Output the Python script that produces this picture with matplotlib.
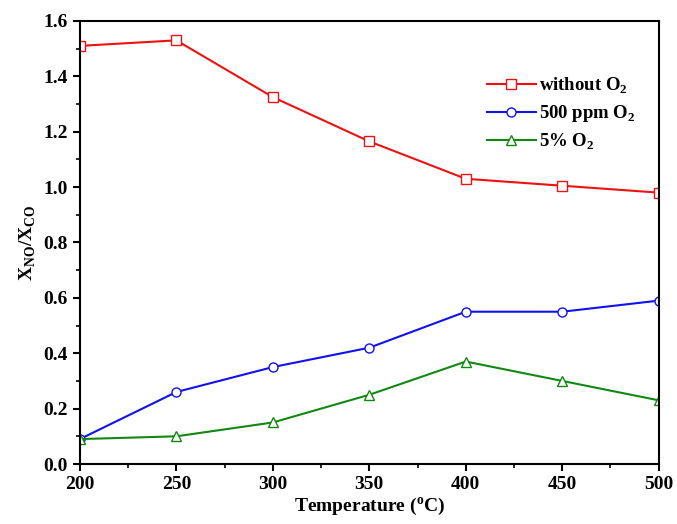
import matplotlib
matplotlib.use("Agg")
import matplotlib.pyplot as plt
from matplotlib.ticker import MultipleLocator

plt.rcParams['font.family'] = ['Liberation Serif', 'DejaVu Serif']
plt.rcParams['font.weight'] = 'bold'
plt.rcParams['mathtext.fontset'] = 'custom'
plt.rcParams['mathtext.rm'] = 'Liberation Serif:bold'
plt.rcParams['mathtext.bf'] = 'Liberation Serif:bold'

# Data
temps = [200, 250, 300, 350, 400, 450, 500]
without_o2 = [1.51, 1.53, 1.325, 1.165, 1.03, 1.005, 0.98]
ppm500_o2 = [0.09, 0.26, 0.35, 0.42, 0.55, 0.55, 0.59]
pct5_o2 = [0.09, 0.10, 0.15, 0.25, 0.37, 0.30, 0.23]

fig = plt.figure(figsize=(6.77, 5.24), dpi=100)
# right edge pulled in a little so the "500" tick label fits
ax = fig.add_axes([0.118, 0.1145, 0.855, 0.8455])

ax.plot(temps, without_o2, color='#ee1111', marker='s', mfc='white', ms=6.5,
        mew=1.0, lw=1.5, label=r'without O$_2$')
ax.plot(temps, ppm500_o2, color='#1111ee', marker='o', mfc='white', ms=6.5,
        mew=1.0, lw=1.5, label=r'500 ppm O$_2$')
ax.plot(temps, pct5_o2, color='#118811', marker='^', mfc='white', ms=7.5,
        mew=1.0, lw=1.5, label=r'5% O$_2$')

ax.set_xlim(200, 500)
ax.set_ylim(0, 1.6)
ax.xaxis.set_major_locator(MultipleLocator(50))
ax.xaxis.set_minor_locator(MultipleLocator(25))
ax.yaxis.set_major_locator(MultipleLocator(0.2))
ax.yaxis.set_minor_locator(MultipleLocator(0.1))
ax.yaxis.set_major_formatter(plt.FuncFormatter(lambda v, p: f"{v:.1f}"))
ax.tick_params(which='major', direction='out', length=5, width=1.5, labelsize=14)
ax.tick_params(which='minor', direction='out', length=3, width=1.2)
for s in ax.spines.values():
    s.set_linewidth(1.5)

ax.set_xlabel(r'Temperature ($^{\mathrm{o}}$C)', fontsize=14, fontweight='bold', labelpad=2)
ax.set_ylabel(r'X$_{\mathrm{NO}}$/X$_{\mathrm{CO}}$', fontsize=14, fontweight='bold', labelpad=4)

ax.legend(loc='upper right', bbox_to_anchor=(0.99, 0.915), frameon=False,
          fontsize=13.5, handlelength=2.6, handletextpad=0.2, labelspacing=0.4)

fig.savefig('out.png', dpi=100)
